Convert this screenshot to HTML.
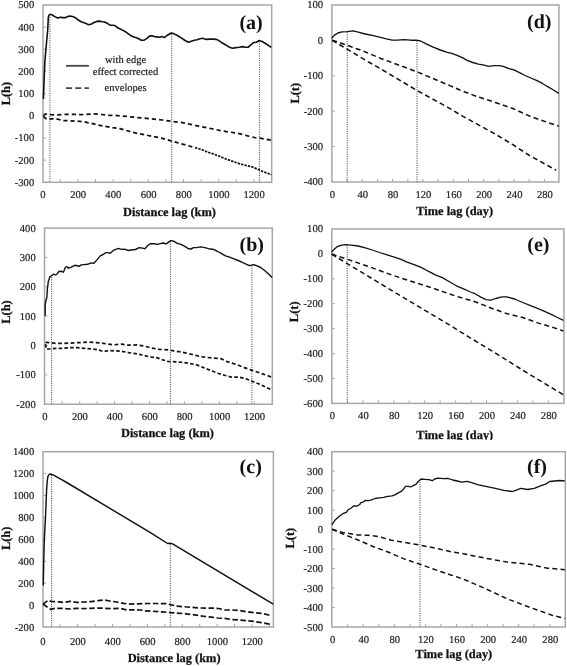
<!DOCTYPE html>
<html><head><meta charset="utf-8"><title>figure</title><style>
html,body{margin:0;padding:0;background:#fff;}
body{width:567px;height:666px;overflow:hidden;}
svg{display:block;will-change:transform;}
text{font-family:"Liberation Serif",serif;text-rendering:geometricPrecision;}
.t{font-size:10.6px;fill:#222;stroke:#222;stroke-width:0.2px;}
.b{font-size:12.4px;font-weight:bold;fill:#111;stroke:#111;stroke-width:0.25px;}
.g{font-size:20px;font-weight:bold;fill:#111;}
.l{font-size:10.5px;fill:#222;stroke:#222;stroke-width:0.2px;}
</style></head>
<body><svg width="567" height="666" viewBox="0 0 567 666"><rect width="567" height="666" fill="#fff"/><g><rect x="43" y="5" width="228.7" height="177.3" fill="none" stroke="#a6a6a6" stroke-width="1.5"/><path d="M60.3 182.3v-3M77.9 182.3v-3M95.5 182.3v-3M113.1 182.3v-3M130.7 182.3v-3M148.3 182.3v-3M165.9 182.3v-3M183.5 182.3v-3M201.1 182.3v-3M218.7 182.3v-3M236.3 182.3v-3M253.9 182.3v-3M43 27.2h3M43 49.3h3M43 71.5h3M43 93.7h3M43 115.8h3M43 138h3M43 160.1h3" stroke="#a6a6a6" stroke-width="1" fill="none"/><text x="43" y="198.2" text-anchor="middle" class="t">0</text><text x="78.2" y="198.2" text-anchor="middle" class="t">200</text><text x="113.3" y="198.2" text-anchor="middle" class="t">400</text><text x="148.6" y="198.2" text-anchor="middle" class="t">600</text><text x="183.8" y="198.2" text-anchor="middle" class="t">800</text><text x="218.9" y="198.2" text-anchor="middle" class="t">1000</text><text x="254.1" y="198.2" text-anchor="middle" class="t">1200</text><text x="34.2" y="8.4" text-anchor="end" class="t">500</text><text x="34.2" y="30.6" text-anchor="end" class="t">400</text><text x="34.2" y="52.8" text-anchor="end" class="t">300</text><text x="34.2" y="74.9" text-anchor="end" class="t">200</text><text x="34.2" y="97.1" text-anchor="end" class="t">100</text><text x="34.2" y="119.3" text-anchor="end" class="t">0</text><text x="34.2" y="141.4" text-anchor="end" class="t">-100</text><text x="34.2" y="163.6" text-anchor="end" class="t">-200</text><text x="34.2" y="185.8" text-anchor="end" class="t">-300</text><text x="169.5" y="215.5" text-anchor="middle" class="b">Distance lag (km)</text><text transform="translate(9.8,93.6) rotate(-90)" text-anchor="middle" class="b">L(h)</text><line x1="49.9" y1="17" x2="49.9" y2="182.3" stroke="#4a4a4a" stroke-width="1" stroke-dasharray="1.1 1.2"/><line x1="171.7" y1="34" x2="171.7" y2="182.3" stroke="#4a4a4a" stroke-width="1" stroke-dasharray="1.1 1.2"/><line x1="259.4" y1="41.5" x2="259.4" y2="182.3" stroke="#4a4a4a" stroke-width="1" stroke-dasharray="1.1 1.2"/><polyline points="43.4,115.6 44.8,114.2 47.6,113.7 50.5,114.6 56.1,114.9 63.2,114.5 70.2,114.2 77.3,114.5 84.3,114.6 94.2,113.9 101.3,114.5 108.3,115.3 115.4,115.3 120,115.8 134.1,117.2 148.2,118.6 162.3,120 172.2,121.4 183.5,122.8 197.1,125.8 209.1,128.2 223.2,131.1 237.3,133.2 248.6,136.1 254.3,137.5 259.9,138.2 271.2,140.3" fill="none" stroke="#111" stroke-width="1.75" stroke-dasharray="4.2 3.1"/><polyline points="43.4,116.3 45.5,118.4 48.3,119.5 51.9,118.7 57.5,119.1 63.2,120.5 70.2,120.8 77.3,121.2 84.3,121.9 91.4,123.3 98.4,125.2 105.5,126.4 112.5,127.6 120,128.7 134.1,132.7 148.2,135.5 162.3,138.3 172.2,141.2 183.5,144.4 195,147.6" fill="none" stroke="#111" stroke-width="1.75" stroke-dasharray="4.2 2.9"/><polyline points="195,147.6 200,149 209.1,152.6 213.2,153.8 226.5,159.2 239.7,163.8 252.9,167.1 260.8,170.7 271.4,174.7" fill="none" stroke="#111" stroke-width="1.75" stroke-dasharray="2.4 1.1"/><polyline points="43.4,99 44.1,80 44.8,62.4 46.2,46 47.7,30 48.3,17.5 49,15.2 50.2,14.3 52.3,15 54.4,16.4 57.6,18 60.2,17.2 62.8,17.6 65.6,17.6 67.8,16.5 69.9,16 73.4,16.7 75.5,17.9 78.3,20 81.2,21.8 84,22.8 86.1,23.5 88.2,24.6 91,24.2 93.9,22.5 96.7,21.4 99.5,21.1 102.3,21.7 105.1,22.1 108,23.8 110.1,25.2 112.9,25.2 115,25.6 117.8,27.8 120.7,29.2 123.5,30.6 126.3,32.3 129.1,34.4 132,36.2 134.8,37.3 137.8,38.3 141.3,40.2 144.2,40.2 147,38.3 149.8,35.9 152.6,35.9 156.2,36.9 159.7,37.2 161.8,36.6 164.6,37.4 167.5,35.2 171,33 173.1,33.4 177.3,35.5 181.6,38.1 185.1,40.5 188.6,42.3 191.4,41.2 194.3,40.2 197.1,39.8 199.9,38.8 202.7,38.3 206.3,39.4 209.9,39.1 214.1,39.1 217.6,39.8 221.2,42.2 225.4,44.8 228.9,46.9 232.5,48.3 236,47.6 239.5,47.2 242.3,46.6 245.1,47.3 248,47.3 250.8,44.8 253.6,42.6 256.4,42.2 259.3,40.5 262.1,41.5 266.3,44 271.3,47.3" fill="none" stroke="#111" stroke-width="1.6" stroke-linejoin="round"/><text x="251.1" y="28.9" text-anchor="middle" class="g">(a)</text></g><g><rect x="44.5" y="228.1" width="227.8" height="176.1" fill="none" stroke="#a6a6a6" stroke-width="1.5"/><path d="M62.2 404.2v-3M79.7 404.2v-3M97.1 404.2v-3M114.6 404.2v-3M132 404.2v-3M149.5 404.2v-3M167 404.2v-3M184.4 404.2v-3M201.9 404.2v-3M219.3 404.2v-3M236.8 404.2v-3M254.3 404.2v-3M44.5 257.4h3M44.5 286.8h3M44.5 316.1h3M44.5 345.5h3M44.5 374.9h3" stroke="#a6a6a6" stroke-width="1" fill="none"/><text x="45" y="419.8" text-anchor="middle" class="t">0</text><text x="79.9" y="419.8" text-anchor="middle" class="t">200</text><text x="114.8" y="419.8" text-anchor="middle" class="t">400</text><text x="149.8" y="419.8" text-anchor="middle" class="t">600</text><text x="184.7" y="419.8" text-anchor="middle" class="t">800</text><text x="219.6" y="419.8" text-anchor="middle" class="t">1000</text><text x="254.5" y="419.8" text-anchor="middle" class="t">1200</text><text x="35.7" y="231.5" text-anchor="end" class="t">400</text><text x="35.7" y="260.9" text-anchor="end" class="t">300</text><text x="35.7" y="290.2" text-anchor="end" class="t">200</text><text x="35.7" y="319.6" text-anchor="end" class="t">100</text><text x="35.7" y="348.9" text-anchor="end" class="t">0</text><text x="35.7" y="378.3" text-anchor="end" class="t">-100</text><text x="35.7" y="407.6" text-anchor="end" class="t">-200</text><text x="167.4" y="437.1" text-anchor="middle" class="b">Distance lag (km)</text><text transform="translate(9.6,312) rotate(-90)" text-anchor="middle" class="b">L(h)</text><line x1="51.6" y1="277" x2="51.6" y2="404.2" stroke="#4a4a4a" stroke-width="1" stroke-dasharray="1.1 1.2"/><line x1="170.4" y1="241.5" x2="170.4" y2="404.2" stroke="#4a4a4a" stroke-width="1" stroke-dasharray="1.1 1.2"/><line x1="251.9" y1="265.5" x2="251.9" y2="404.2" stroke="#4a4a4a" stroke-width="1" stroke-dasharray="1.1 1.2"/><polyline points="45.5,342.4 50.5,342.7 56.1,343.4 63.2,343.4 70.2,343.1 77.3,342.7 84.3,342.4 88.6,342 94.2,342.4 101.3,343.1 108.3,344.1 114,344.8 118.2,344.4 121.4,344.2 128.5,345.2 136.9,344.9 144,346 151,348 159.5,349.4 168,349.8 173.6,350.8 180.7,351.9 186.3,353.1 195,355.2 203.5,357 211.9,358 221.1,358.7 226,361.2 231.7,363.1 237.3,364.8 244.4,367.6 251.4,370.1 258.5,372.5 265.5,374.9 271.9,377.2" fill="none" stroke="#111" stroke-width="1.7" stroke-dasharray="3.8 2.5"/><polyline points="45.5,344.1 46.2,349 50.5,349 56.1,348.3 63.2,348.3 70.2,347.6 77.3,347.6 84.3,348.3 91.4,348.8 98.4,349.8 101.3,350.9 105.5,351.2 109.7,350.5 115.4,350.9 121.4,351.2 128.5,352.6 135.5,353.6 142.6,355 149.6,356.9 156.7,357.6 162.3,359.7 168,361.5 176.4,361.8 183.5,362.5 190.5,363.6 196.4,364.8 203.5,367.6 210.5,370.4 217.6,373.2 224.6,375.3 231.7,377.2 238.7,377.2 244.4,378.2 251.4,381 258.5,383.8 265.5,387 271.9,389.9" fill="none" stroke="#111" stroke-width="1.7" stroke-dasharray="3.6 2.2"/><polyline points="45.2,315.9 45.2,305 45.9,300.5 46.8,297.8 47.4,288.8 48.3,281.6 49.9,276.7 51.3,275.8 53.5,274.2 55.3,274.9 56.7,274.4 58.9,271.5 61.2,271.3 63.4,272.2 65.4,267.2 67.1,266.7 68.5,268.2 71.3,267.2 74.9,265.3 77,265.8 79.1,266.3 81.2,264.9 84,264.6 87.6,264.3 91.1,262.9 93.9,263.2 96.7,260.1 100.3,255.9 103.1,254.5 105.9,252.6 108,252.6 110.1,253.3 113.7,250.2 116.5,249.1 118.6,248.4 121.4,249.4 124.3,249.1 128.5,250.5 132.7,249.8 135.5,249.5 139.1,247.7 142.8,248.1 144.9,248.8 147.8,245.5 150.6,243.7 154.1,243.7 157.6,244.4 161.2,243.4 163.3,243 166.1,243.8 168.2,242.4 170.8,240.6 173.9,241.3 177.4,243.4 180.9,244.4 184.4,246.2 188.7,248.8 190.8,249 193.6,247.6 196.4,247.6 200.7,246.9 204.9,247.6 208.5,248.7 212.7,249.2 216.9,251 221.2,253.4 225.4,255.8 229.6,257.2 233.9,258.8 238.1,260.5 242.3,262.3 246.6,264.3 249.4,265.7 251.5,265.1 253.6,264.7 256.4,265.7 260.7,267.5 264.9,270.8 269.1,274.6 272.1,277.4" fill="none" stroke="#111" stroke-width="1.4" stroke-linejoin="round"/><text x="251.8" y="250.9" text-anchor="middle" class="g">(b)</text></g><g><rect x="43" y="451.7" width="230.4" height="175.3" fill="none" stroke="#a6a6a6" stroke-width="1.5"/><path d="M60.2 627v-3M77.6 627v-3M95.1 627v-3M112.5 627v-3M130 627v-3M147.4 627v-3M164.8 627v-3M182.3 627v-3M199.7 627v-3M217.2 627v-3M234.6 627v-3M252 627v-3M269.5 627v-3M43 473.6h3M43 495.5h3M43 517.4h3M43 539.4h3M43 561.3h3M43 583.2h3M43 605.1h3" stroke="#a6a6a6" stroke-width="1" fill="none"/><text x="43" y="645.3" text-anchor="middle" class="t">0</text><text x="77.9" y="645.3" text-anchor="middle" class="t">200</text><text x="112.8" y="645.3" text-anchor="middle" class="t">400</text><text x="147.7" y="645.3" text-anchor="middle" class="t">600</text><text x="182.5" y="645.3" text-anchor="middle" class="t">800</text><text x="217.4" y="645.3" text-anchor="middle" class="t">1000</text><text x="252.3" y="645.3" text-anchor="middle" class="t">1200</text><text x="34.2" y="455.1" text-anchor="end" class="t">1400</text><text x="34.2" y="477.1" text-anchor="end" class="t">1200</text><text x="34.2" y="499" text-anchor="end" class="t">1000</text><text x="34.2" y="520.9" text-anchor="end" class="t">800</text><text x="34.2" y="542.8" text-anchor="end" class="t">600</text><text x="34.2" y="564.7" text-anchor="end" class="t">400</text><text x="34.2" y="586.6" text-anchor="end" class="t">200</text><text x="34.2" y="608.5" text-anchor="end" class="t">0</text><text x="34.2" y="630.5" text-anchor="end" class="t">-200</text><text x="174.1" y="661.8" text-anchor="middle" class="b">Distance lag (km)</text><text transform="translate(9.6,538.4) rotate(-90)" text-anchor="middle" class="b">L(h)</text><line x1="51.6" y1="475" x2="51.6" y2="627" stroke="#4a4a4a" stroke-width="1" stroke-dasharray="1.1 1.2"/><line x1="170.3" y1="543.8" x2="170.3" y2="627" stroke="#4a4a4a" stroke-width="1" stroke-dasharray="1.1 1.2"/><polyline points="43,604.1 48,600.4 51.6,601.5 59,601.8 63.7,602.5 70,601.3 77.1,602.4 84.1,602 91.2,601.6 98.2,600.6 103.9,599.9 109.5,601 116.6,602 123.6,603.4 130.7,604.1 137.7,603.8 147.1,603.5 156.3,603.5 166.2,603.7 170.4,604.6 176,606 187.3,607 198.6,608 212.4,608.1 218.6,608.5 224.8,610 232.2,610 239.6,610.6 247,611.8 254.4,612.8 261.8,613.4 269.8,615.3" fill="none" stroke="#111" stroke-width="1.7" stroke-dasharray="5.5 2.5"/><polyline points="43,604.1 50.6,609.3 54.8,608.3 64.2,608.5 70,609 77.1,608.3 84.1,608.6 91.2,608.3 98.2,608 105.3,608.3 112.3,608.6 119.4,608.3 126.4,609.8 133.5,609.8 140.5,610 145,610.9 152.1,611.2 161.9,611.9 170.4,612.6 177.5,613.1 185.9,613.8 194.4,614.8 202.8,616.2 211.2,617.1 217.3,618 224.8,618.4 232.2,619.6 239.6,620 247,620.8 254.4,621.5 261.8,622.7 269.8,624.2" fill="none" stroke="#111" stroke-width="1.7" stroke-dasharray="5.5 2.5"/><polyline points="43.3,585.5 43.7,562 44.3,539.5 45.5,517 46.6,490 47.2,481 47.9,476.6 48.8,474.8 50.1,474 52.7,474.7 61.2,479.3 67.5,483 150,532.4 167.6,543.5 170.1,543.2 172.6,543.9 273.2,604.2" fill="none" stroke="#111" stroke-width="1.45" stroke-linejoin="round"/><text x="250.7" y="472.9" text-anchor="middle" class="g">(c)</text></g><g><rect x="331.9" y="5" width="227" height="177" fill="none" stroke="#a6a6a6" stroke-width="1.5"/><path d="M347 182v-3M362.2 182v-3M377.4 182v-3M392.6 182v-3M407.8 182v-3M422.9 182v-3M438.1 182v-3M453.3 182v-3M468.5 182v-3M483.7 182v-3M498.8 182v-3M514 182v-3M529.2 182v-3M544.4 182v-3M331.9 40.4h3M331.9 75.8h3M331.9 111.2h3M331.9 146.6h3" stroke="#a6a6a6" stroke-width="1" fill="none"/><text x="332.4" y="198.1" text-anchor="middle" class="t">0</text><text x="362.7" y="198.1" text-anchor="middle" class="t">40</text><text x="393.1" y="198.1" text-anchor="middle" class="t">80</text><text x="423.4" y="198.1" text-anchor="middle" class="t">120</text><text x="453.8" y="198.1" text-anchor="middle" class="t">160</text><text x="484.2" y="198.1" text-anchor="middle" class="t">200</text><text x="514.5" y="198.1" text-anchor="middle" class="t">240</text><text x="544.9" y="198.1" text-anchor="middle" class="t">280</text><text x="323.1" y="8.4" text-anchor="end" class="t">100</text><text x="323.1" y="43.9" text-anchor="end" class="t">0</text><text x="323.1" y="79.2" text-anchor="end" class="t">-100</text><text x="323.1" y="114.7" text-anchor="end" class="t">-200</text><text x="323.1" y="150" text-anchor="end" class="t">-300</text><text x="323.1" y="185.4" text-anchor="end" class="t">-400</text><text x="454.7" y="215" text-anchor="middle" class="b">Time lag (day)</text><text transform="translate(299.2,93.2) rotate(-90)" text-anchor="middle" class="b">L(t)</text><line x1="347.2" y1="32" x2="347.2" y2="182" stroke="#4a4a4a" stroke-width="1" stroke-dasharray="1.1 1.2"/><line x1="417" y1="40.7" x2="417" y2="182" stroke="#4a4a4a" stroke-width="1" stroke-dasharray="1.1 1.2"/><polyline points="332.2,40.3 340.7,42.9 349.2,46.1 359.7,49.8 370.3,54 380.9,58.5 416.7,71.7 450.5,85.9 460,90 477.6,96.8 495.3,102.4 512.9,108.5 530.5,116.5 548.2,122.6 558.8,126.2" fill="none" stroke="#111" stroke-width="1.55" stroke-dasharray="5 3.3"/><polyline points="332.2,40.3 349.2,50.4 359.7,56.7 370.3,63 380.9,68.9 416.7,90.3 450.5,108.8 460,114.7 477.6,124.4 495.3,134.1 512.9,144.7 530.5,156.1 548.2,165.8 556.1,170.2" fill="none" stroke="#111" stroke-width="1.55" stroke-dasharray="5 3.3"/><polyline points="331.7,38.2 334.2,35.4 337.8,33 342,31.9 346.9,31.6 353.3,30.9 358.2,32.2 365.3,34 372.3,35.4 379.4,37.2 386.4,38.9 392.1,40.1 397.7,40.1 403.4,39.6 410.6,40.2 416.3,40.2 420.5,41 426.2,43.8 433.2,47.2 440.3,50 447.3,52.3 451.6,53.3 457.2,55.4 462.8,57.9 467.1,60.3 472.7,62.5 478.4,64.1 484.2,65.2 488.5,66.3 494.1,65.6 499.8,65.6 504,66.6 508.2,68.4 513.9,69.8 519.5,72.6 525.1,75.5 530.8,78 536.4,80.4 542.1,83.2 547.7,86.7 553.4,90 558.8,93.3" fill="none" stroke="#111" stroke-width="1.35" stroke-linejoin="round"/><text x="539.3" y="28" text-anchor="middle" class="g">(d)</text></g><g><rect x="331.8" y="229" width="232.1" height="174.4" fill="none" stroke="#a6a6a6" stroke-width="1.5"/><path d="M347.4 403.4v-3M362.9 403.4v-3M378.4 403.4v-3M393.8 403.4v-3M409.2 403.4v-3M424.7 403.4v-3M440.1 403.4v-3M455.6 403.4v-3M471 403.4v-3M486.5 403.4v-3M501.9 403.4v-3M517.4 403.4v-3M532.9 403.4v-3M548.3 403.4v-3M331.8 253.9h3M331.8 278.8h3M331.8 303.7h3M331.8 328.7h3M331.8 353.6h3M331.8 378.5h3" stroke="#a6a6a6" stroke-width="1" fill="none"/><text x="332.5" y="418.9" text-anchor="middle" class="t">0</text><text x="363.4" y="418.9" text-anchor="middle" class="t">40</text><text x="394.3" y="418.9" text-anchor="middle" class="t">80</text><text x="425.2" y="418.9" text-anchor="middle" class="t">120</text><text x="456.1" y="418.9" text-anchor="middle" class="t">160</text><text x="487" y="418.9" text-anchor="middle" class="t">200</text><text x="517.9" y="418.9" text-anchor="middle" class="t">240</text><text x="548.8" y="418.9" text-anchor="middle" class="t">280</text><text x="323" y="232.4" text-anchor="end" class="t">100</text><text x="323" y="257.4" text-anchor="end" class="t">0</text><text x="323" y="282.3" text-anchor="end" class="t">-100</text><text x="323" y="307.2" text-anchor="end" class="t">-200</text><text x="323" y="332.1" text-anchor="end" class="t">-300</text><text x="323" y="357" text-anchor="end" class="t">-400</text><text x="323" y="381.9" text-anchor="end" class="t">-500</text><text x="323" y="406.8" text-anchor="end" class="t">-600</text><svg x="0" y="0" width="567" height="440.0" overflow="hidden"><text x="454.8" y="438.7" text-anchor="middle" class="b">Time lag (day)</text></svg><text transform="translate(297.7,311.8) rotate(-90)" text-anchor="middle" class="b">L(t)</text><line x1="347.2" y1="245" x2="347.2" y2="403.4" stroke="#4a4a4a" stroke-width="1" stroke-dasharray="1.1 1.2"/><polyline points="331.7,254.2 349.2,259.9 370.3,267.1 391.5,274.9 412.7,281.8 433.8,288.5 456.4,296.3 475,301.7 490.9,308 506.7,313.6 522.6,317.5 538.5,323.1 554.4,327.9 563.3,331" fill="none" stroke="#111" stroke-width="1.5" stroke-dasharray="5 3.3"/><polyline points="331.7,254.2 400,295.5 445.6,322.6 471.2,338.4 496.7,353.9 522.3,369.9 547.9,385.5 563.2,394.6" fill="none" stroke="#111" stroke-width="1.5" stroke-dasharray="5 3.3"/><polyline points="331.4,252.1 334.2,249.3 337.1,246.7 340.6,245.3 345.5,244.6 351.2,245.1 358.2,246 365.3,247.9 372.3,250 379.4,252.5 386.4,254.6 393.5,256.8 400.5,259.1 407.1,262.1 414.1,264.6 421.2,267.4 428.2,271.2 435.3,274.8 442.3,277.6 449.4,281.8 456.4,285.8 463.5,288.9 470.5,292 475,293.7 481.3,297.4 486.1,299.6 490.9,300.1 495.6,298.5 502,296.9 506.7,296.9 514.7,299 522.6,302.5 530.6,305.6 541.7,310.1 549.6,313.6 557.5,317.5 563.5,320.4" fill="none" stroke="#111" stroke-width="1.3" stroke-linejoin="round"/><text x="538.4" y="250.9" text-anchor="middle" class="g">(e)</text></g><g><rect x="331.8" y="451.7" width="233.5" height="175.3" fill="none" stroke="#a6a6a6" stroke-width="1.5"/><path d="M347.7 627v-3M363.2 627v-3M378.8 627v-3M394.3 627v-3M409.9 627v-3M425.4 627v-3M441 627v-3M456.5 627v-3M472.1 627v-3M487.6 627v-3M503.1 627v-3M518.7 627v-3M534.2 627v-3M549.8 627v-3M331.8 471.2h3M331.8 490.7h3M331.8 510.1h3M331.8 529.6h3M331.8 549.1h3M331.8 568.6h3M331.8 588h3M331.8 607.5h3" stroke="#a6a6a6" stroke-width="1" fill="none"/><text x="332.6" y="643" text-anchor="middle" class="t">0</text><text x="363.7" y="643" text-anchor="middle" class="t">40</text><text x="394.8" y="643" text-anchor="middle" class="t">80</text><text x="425.9" y="643" text-anchor="middle" class="t">120</text><text x="457" y="643" text-anchor="middle" class="t">160</text><text x="488.1" y="643" text-anchor="middle" class="t">200</text><text x="519.2" y="643" text-anchor="middle" class="t">240</text><text x="550.3" y="643" text-anchor="middle" class="t">280</text><text x="323" y="455.1" text-anchor="end" class="t">400</text><text x="323" y="474.6" text-anchor="end" class="t">300</text><text x="323" y="494.1" text-anchor="end" class="t">200</text><text x="323" y="513.6" text-anchor="end" class="t">100</text><text x="323" y="533.1" text-anchor="end" class="t">0</text><text x="323" y="552.5" text-anchor="end" class="t">-100</text><text x="323" y="572" text-anchor="end" class="t">-200</text><text x="323" y="591.5" text-anchor="end" class="t">-300</text><text x="323" y="611" text-anchor="end" class="t">-400</text><text x="323" y="630.5" text-anchor="end" class="t">-500</text><text x="453.8" y="658.4" text-anchor="middle" class="b">Time lag (day)</text><text transform="translate(294.1,538.1) rotate(-90)" text-anchor="middle" class="b">L(t)</text><line x1="420" y1="479.5" x2="420" y2="627" stroke="#4a4a4a" stroke-width="1" stroke-dasharray="1.1 1.2"/><polyline points="332.1,529.2 342.7,532.4 357.5,535 368.1,535.2 378.7,536.6 391.4,540.2 404.1,542.4 419.9,545.1 435.8,548.3 450,551.5 462.4,553.6 484.8,558.1 507.2,562.1 529.6,564.3 547.5,568.2 564.8,569.7" fill="none" stroke="#111" stroke-width="1.5" stroke-dasharray="5 3.3"/><polyline points="332.1,529.2 342.7,533.9 357.5,539.8 372.3,546.2 389.3,552.5 404.1,558.9 419.9,564.2 435.8,569.9 450,574.7 462.4,578.7 484.8,588.3 507.2,598.8 529.6,607.3 552,615.2 564.8,618.5" fill="none" stroke="#111" stroke-width="1.5" stroke-dasharray="5 3.3"/><polyline points="331.9,524.8 333.5,522.3 335.4,519.7 339.3,516.2 342.8,513.7 346.3,512.3 348.1,509.8 351.3,508 354.1,505.6 356.2,506.3 359.7,504.5 361.2,502.4 363.3,502.1 365.4,500.3 368,500.6 370.9,500.2 375.1,498.5 379.4,497.8 383.6,497.3 387.8,496.3 392.1,495.9 394.9,494.9 397.8,493.1 401.3,491.3 403.5,489.2 405.6,486.3 408.4,486.3 410.5,487 413.3,485.6 416.2,484.2 418.3,481.4 421.1,479 424.6,479.3 428.9,479.7 432.4,480.7 434.5,479 438,478.2 443,478.6 447.9,478.3 452.8,480 457.1,481 462,482.1 467,481.4 470,482.2 478.5,484.9 486.9,486.6 495.4,488.3 503.9,490.3 512.3,491.5 515.7,490.3 520.8,488.3 527.6,489.5 534.3,488.3 541.1,485.6 546.2,483.9 549.6,481.5 554.7,481 559.7,480.5 564.8,481" fill="none" stroke="#111" stroke-width="1.3" stroke-linejoin="round"/><text x="537" y="472.6" text-anchor="middle" class="g">(f)</text></g><line x1="66.05" y1="65.8" x2="88.9" y2="65.8" stroke="#444" stroke-width="1.8"/><line x1="66.05" y1="88.1" x2="88.9" y2="88.1" stroke="#444" stroke-width="1.7" stroke-dasharray="6 3.2"/><text x="125.6" y="62.6" text-anchor="middle" class="l">with edge</text><text x="125.5" y="75.2" text-anchor="middle" class="l">effect corrected</text><text x="125.6" y="91.1" text-anchor="middle" class="l">envelopes</text></svg></body></html>
